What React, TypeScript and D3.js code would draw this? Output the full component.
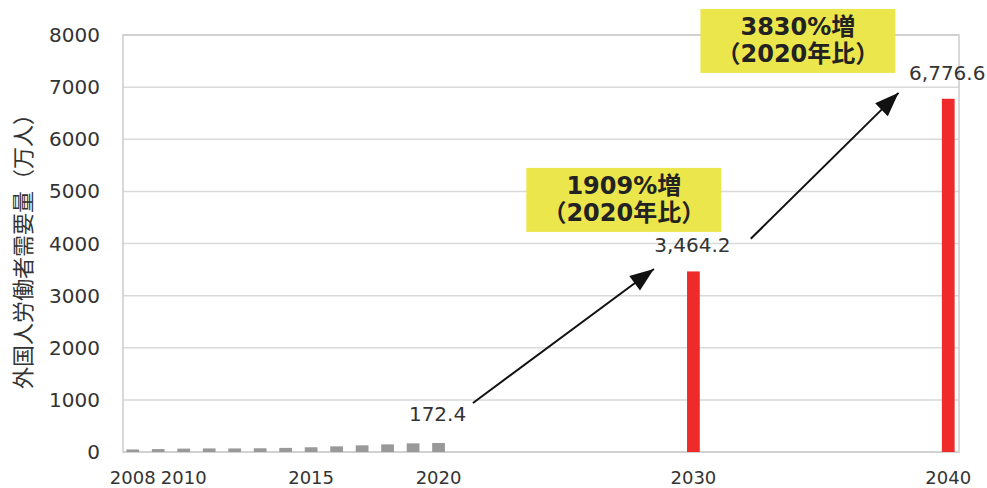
import * as d3 from "d3";

const years = d3.range(2008, 2041).map(String);
const histYears = ["2008", "2009", "2010", "2011", "2012", "2013", "2014", "2015", "2016", "2017", "2018", "2019", "2020"];
const histValues = [48.6, 56.3, 65.0, 68.6, 68.2, 71.8, 78.8, 90.8, 108.4, 127.9, 146.0, 165.9, 172.4];
const forecastYears = ["2030", "2040"];
const forecastValues = [3464.2, 6776.6];
const tickYears = ["2008", "2010", "2015", "2020", "2030", "2040"];
const yTicks = [0, 1000, 2000, 3000, 4000, 5000, 6000, 7000, 8000];
const labelYears = ["2020", "2030", "2040"];
const labelValues = [172.4, 3464.2, 6776.6];
const labelTexts = ["172.4", "3,464.2", "6,776.6"];

const W = 987;
const H = 488;
const plot = { left: 123, right: 959, top: 35, bottom: 452 };

const NUM_FONT = "'DejaVu Sans', Verdana, sans-serif";
const JP_FONT = "'DejaVu Sans', 'Noto Sans CJK JP', sans-serif";

export default function App() {
  const x = d3
    .scaleBand<string>()
    .domain(years)
    .range([120, 961])
    .paddingInner(0.5)
    .paddingOuter(0.25);
  const y = d3.scaleLinear().domain([0, 8000]).range([plot.bottom, plot.top]);
  const bw = x.bandwidth();
  const cx = (yr: string) => (x(yr) ?? 0) + bw / 2;
  // fractional year -> pixel, for annotation placement
  const xf = d3.scaleLinear().domain([2008, 2040]).range([cx("2008"), cx("2040")]);

  const arrows = [
    { from: [2021.35, 940], to: [2028.45, 3510] },
    { from: [2032.25, 4090], to: [2038.05, 6890] },
  ];
  const boxes = [
    { yr: 2027.27, v: 5450, lines: ["1909%増", "（2020年比）"] },
    { yr: 2034.1, v: 8500, lines: ["3830%増", "（2020年比）"] },
  ];

  const arrowHead = (x1: number, y1: number, x2: number, y2: number) => {
    const a = Math.atan2(y2 - y1, x2 - x1);
    const len = 24;
    const hw = 9;
    const bx = x2 - len * Math.cos(a);
    const by = y2 - len * Math.sin(a);
    const px = -Math.sin(a) * hw;
    const py = Math.cos(a) * hw;
    return `M${x2},${y2}L${bx + px},${by + py}L${bx - px},${by - py}Z`;
  };

  return (
    <svg width={W} height={H} style={{ position: "absolute", left: 0, top: 0, background: "#fff" }}>
      {/* gridlines */}
      {yTicks.map((t) => (
        <line key={t} x1={plot.left} x2={plot.right} y1={y(t)} y2={y(t)} stroke="#d9d9d9" strokeWidth={1.5} />
      ))}
      <rect
        x={plot.left}
        y={plot.top}
        width={plot.right - plot.left}
        height={plot.bottom - plot.top}
        fill="none"
        stroke="#cccccc"
        strokeWidth={1.5}
      />

      {/* bars */}
      {histYears.map((yr, i) => (
        <rect key={yr} x={x(yr)} y={y(histValues[i])} width={bw} height={y(0) - y(histValues[i])} fill="#999999" />
      ))}
      {forecastYears.map((yr, i) => (
        <rect key={yr} x={x(yr)} y={y(forecastValues[i])} width={bw} height={y(0) - y(forecastValues[i])} fill="#ee2a2a" />
      ))}

      {/* y ticks */}
      {yTicks.map((t) => (
        <text key={t} x={100} y={y(t) + 7} textAnchor="end" fontFamily={NUM_FONT} fontSize={20} fill="#333">
          {t}
        </text>
      ))}
      {/* x ticks */}
      {tickYears.map((t) => (
        <text key={t} x={cx(t)} y={484} textAnchor="middle" fontFamily={NUM_FONT} fontSize={18} fill="#333">
          {t}
        </text>
      ))}

      {/* y axis title */}
      <text
        transform="translate(31,246) rotate(-90)"
        textAnchor="middle"
        fontFamily="'Noto Sans CJK JP', sans-serif"
        fontSize={22}
        fill="#333"
      >
        外国人労働者需要量（万人）
      </text>

      {/* value labels */}
      {labelYears.map((yr, i) => (
        <text
          key={yr}
          x={cx(yr) - 1}
          y={y(labelValues[i]) - (i === 0 ? 22 : 19)}
          textAnchor="middle"
          fontFamily={NUM_FONT}
          fontSize={20}
          fill="#333"
        >
          {labelTexts[i]}
        </text>
      ))}

      {/* growth boxes */}
      {boxes.map((b, i) => {
        const bx = xf(b.yr);
        const by = y(b.v);
        return (
          <g key={i}>
            <rect x={bx - 97.5} y={by} width={195} height={64} fill="#eae64b" />
            {b.lines.map((l, j) => (
              <text
                key={j}
                x={bx}
                y={by + 26 + j * 27}
                textAnchor="middle"
                fontFamily={JP_FONT}
                fontWeight="bold"
                fontSize={24}
                fill="#222"
              >
                {l}
              </text>
            ))}
          </g>
        );
      })}

      {/* arrows */}
      {arrows.map((a, i) => {
        const x1 = xf(a.from[0]);
        const y1 = y(a.from[1]);
        const x2 = xf(a.to[0]);
        const y2 = y(a.to[1]);
        return (
          <g key={i}>
            <line x1={x1} y1={y1} x2={x2} y2={y2} stroke="#111" strokeWidth={2} />
            <path d={arrowHead(x1, y1, x2, y2)} fill="#111" />
          </g>
        );
      })}
    </svg>
  );
}
